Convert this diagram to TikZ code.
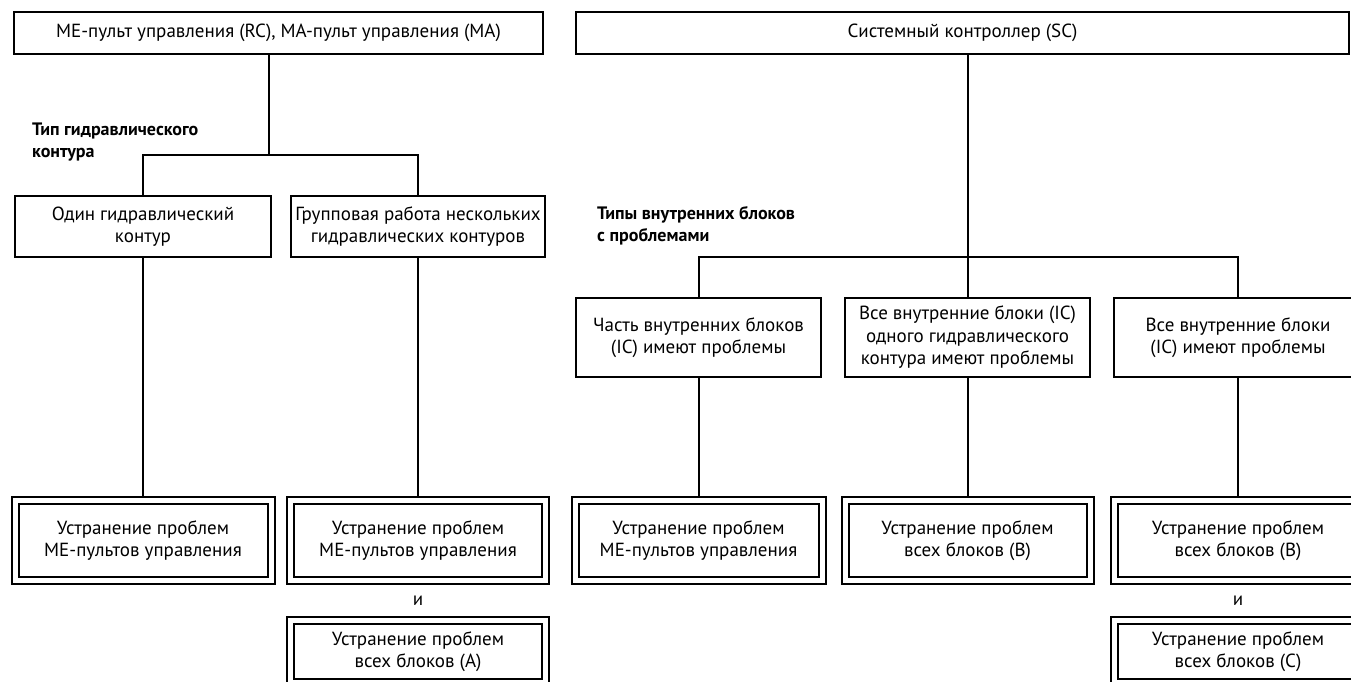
\documentclass[tikz,border=0pt]{standalone}
\usepackage{fontspec}
\setmainfont{PT Sans}
\usetikzlibrary{positioning}

\begin{document}
\begin{tikzpicture}[
    x=1pt, y=-1pt,
    font=\fontsize{19}{22.5}\selectfont,
    box/.style={draw, line width=2pt, align=center, inner sep=0pt},
    fixbox/.style={draw, double, double distance=5pt, line width=2pt, align=center,
      inner sep=0pt, outer sep=3.5pt, minimum height=80pt},
    lbl/.style={font=\fontsize{18}{22}\selectfont\bfseries, align=left, anchor=north west, inner sep=0pt},
    con/.style={line width=2pt}
  ]
    \useasboundingbox (0,0) rectangle (1351,682);
    \clip (0,0) rectangle (1351,682);
    % top row
    \node[box, minimum width=529pt, minimum height=42pt] (rc) at (278.5,33) {ME-пульт управления (RC), MA-пульт управления (MA)};
    \node[box, minimum width=773pt, minimum height=42pt] (sc) at (962.5,33) {Системный контроллер (SC)};
    % left branch
    \node[lbl] (tl) at (32,122.5) {Тип гидравлического\\контура};
    \node[box, minimum width=256pt, minimum height=61pt] (one) at (143,226.5) {Один гидравлический\\контур};
    \node[box, minimum width=254pt, minimum height=61pt] (grp) at (418,226.5) {Групповая работа нескольких\\гидравлических контуров};
    \node[fixbox, minimum width=256pt] (fa) at (143,540.5) {Устранение проблем\\ME-пультов управления};
    \node[fixbox, minimum width=255pt] (fb) at (418,540.5) {Устранение проблем\\ME-пультов управления};
    \node (and1) at (418,601) {и};
    \node[fixbox, minimum width=255pt, minimum height=62pt] (fc) at (418,651.5) {Устранение проблем\\всех блоков (A)};
    % right branch
    \node[lbl] (tr) at (597,206.5) {Типы внутренних блоков\\с проблемами};
    \node[box, minimum width=245pt, minimum height=79pt] (part) at (698.5,337.5) {Часть внутренних блоков\\(IC) имеют проблемы};
    \node[box, minimum width=245pt, minimum height=79pt] (loop) at (967.5,337.5) {Все внутренние блоки (IC)\\одного гидравлического\\контура имеют проблемы};
    \node[box, minimum width=248pt, minimum height=79pt] (all) at (1238,337.5) {Все внутренние блоки\\(IC) имеют проблемы};
    \node[fixbox, minimum width=247pt] (fd) at (698.5,540.5) {Устранение проблем\\ME-пультов управления};
    \node[fixbox, minimum width=245pt] (fe) at (967.5,540.5) {Устранение проблем\\всех блоков (B)};
    \node[fixbox, minimum width=247pt] (ff) at (1238,540.5) {Устранение проблем\\всех блоков (B)};
    \node (and2) at (1238,601) {и};
    \node[fixbox, minimum width=247pt, minimum height=62pt] (fg) at (1238,651.5) {Устранение проблем\\всех блоков (C)};
    % bus points
    \coordinate (lb) at (269,155);
    \coordinate (rb) at (967.5,257);
    \draw[con] (rc.south -| lb) -- (lb);
    \draw[con] (one.north) |- (lb) -| (grp.north);
    \draw[con] (one) -- (fa);
    \draw[con] (grp) -- (fb);
    \draw[con] (sc.south -| rb) -- (loop.north);
    \draw[con] (part.north) |- (rb) -| (all.north);
    \draw[con] (part) -- (fd);
    \draw[con] (loop) -- (fe);
    \draw[con] (all) -- (ff);
  \end{tikzpicture}
\end{document}
